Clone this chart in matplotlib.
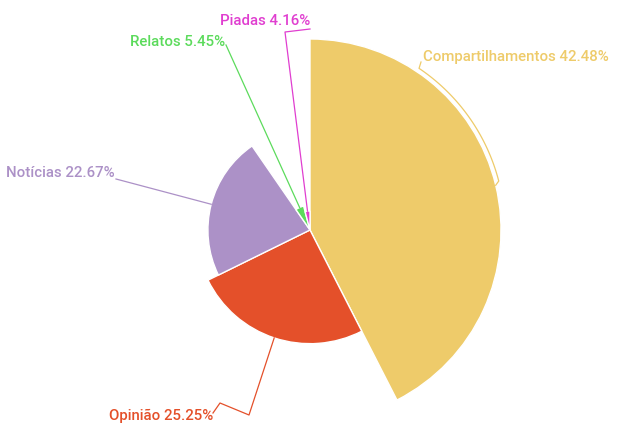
import numpy as np
import matplotlib.pyplot as plt
from matplotlib.patches import Wedge

plt.rcParams['font.family'] = ['Roboto', 'DejaVu Sans']

# Data
labels = ['Compartilhamentos', 'Opinião', 'Notícias', 'Relatos', 'Piadas']
values = [42.48, 25.25, 22.67, 5.45, 4.16]
colors = ['#EECB6A', '#E4502A', '#AC91C7', '#5CDB5C', '#E03ED0']

# layout (pixels)
W, H = 621, 436
cx, cy = 310, 230
r_min, r_max = 19, 191

fig = plt.figure(figsize=(W / 100, H / 100), dpi=100)
ax = fig.add_axes([0, 0, 1, 1])
ax.set_xlim(0, W)
ax.set_ylim(H, 0)
ax.set_aspect('equal')
ax.axis('off')

vals = np.array(values)
total = vals.sum()
radii = r_min + (vals - vals.min()) / (vals.max() - vals.min()) * (r_max - r_min)
bounds = np.concatenate([[0], np.cumsum(vals) / total * 360])


def pt(theta, r):
    # theta clockwise from top, screen coords
    t = np.radians(theta)
    return cx + r * np.sin(t), cy - r * np.cos(t)


mids = []
for i in range(len(vals)):
    a, b = bounds[i], bounds[i + 1]
    ax.add_patch(Wedge((cx, cy), radii[i], a - 90, b - 90, facecolor=colors[i],
                       edgecolor='white', linewidth=1))
    mids.append((a + b) / 2)

# leader lines + labels
lw = 0.9
fs = 10.8

# Compartilhamentos: curve hugging the arc
m = mids[0]
x0, y0 = pt(m, radii[0])
th = np.linspace(m - 1, 34, 60)
xs, ys = pt(th, radii[0] + 4)
xs = np.concatenate([[x0], xs, [421]])
ys = np.concatenate([[y0], ys, [62]])
ax.plot(xs, ys, color=colors[0], lw=lw)
ax.text(423, 57, f'{labels[0]} {values[0]:.2f}%', color=colors[0], fontsize=fs,
        fontweight='medium', ha='left', va='center')

# Opinião
x0, y0 = pt(mids[1], radii[1])
ax.plot([x0, 249, 220, 213], [y0, 415, 403, 413], color=colors[1], lw=lw)
ax.text(213, 416, f'{labels[1]} {values[1]:.2f}%', color=colors[1], fontsize=fs,
        fontweight='medium', ha='right', va='center')

# Notícias
x0, y0 = pt(mids[2], radii[2])
ax.plot([x0, 116], [y0, 179], color=colors[2], lw=lw)
ax.text(115, 173, f'{labels[2]} {values[2]:.2f}%', color=colors[2], fontsize=fs,
        fontweight='medium', ha='right', va='center')

# Relatos
x0, y0 = pt(mids[3], radii[3])
ax.plot([x0, 226], [y0, 45], color=colors[3], lw=lw)
ax.text(225, 42, f'{labels[3]} {values[3]:.2f}%', color=colors[3], fontsize=fs,
        fontweight='medium', ha='right', va='center')

# Piadas
x0, y0 = pt(mids[4], radii[4])
ax.plot([x0, 285, 310], [y0, 32, 29], color=colors[4], lw=lw)
ax.text(310, 21, f'{labels[4]} {values[4]:.2f}%', color=colors[4], fontsize=fs,
        fontweight='medium', ha='right', va='center')

fig.savefig('out.png', dpi=100)
